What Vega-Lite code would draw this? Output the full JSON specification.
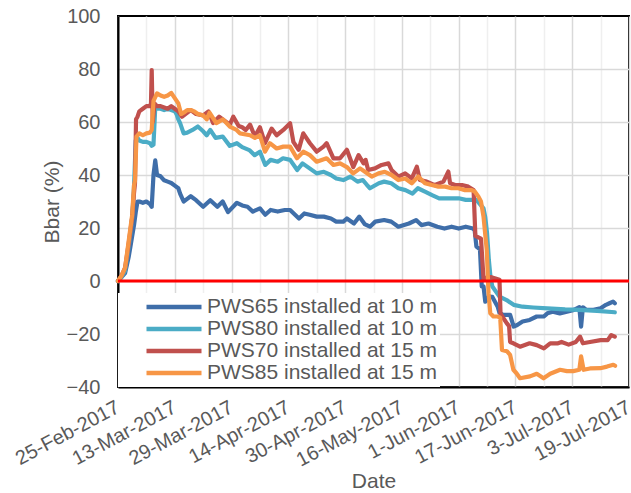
{
"$schema": "https://vega.github.io/schema/vega-lite/v6.json",
"width": 511, "height": 371,
"autosize": {"type": "none"},
"padding": {"left": 118, "top": 16, "right": 2, "bottom": 106},
"background": "white",
"config": {
  "font": "Liberation Sans",
  "view": {"stroke": "#000000", "strokeWidth": 2},
  "axis": {"labelColor": "#595959", "titleColor": "#595959", "labelFont": "Liberation Sans", "titleFont": "Liberation Sans", "labelFontSize": 20, "titleFontSize": 21, "titleFontWeight": "normal", "ticks": false}
},
"layer": [
{
"data": {"values": [
{"s":"PWS65","t":"2017-02-25T00:00","v":0},
{"s":"PWS65","t":"2017-02-26T00:00","v":1.5},
{"s":"PWS65","t":"2017-02-27T00:00","v":3},
{"s":"PWS65","t":"2017-02-28T00:00","v":9},
{"s":"PWS65","t":"2017-02-28T12:00","v":13},
{"s":"PWS65","t":"2017-03-01T00:00","v":17},
{"s":"PWS65","t":"2017-03-01T12:00","v":21},
{"s":"PWS65","t":"2017-03-02T00:00","v":26},
{"s":"PWS65","t":"2017-03-02T12:00","v":30},
{"s":"PWS65","t":"2017-03-03T00:00","v":30},
{"s":"PWS65","t":"2017-03-04T00:00","v":29.5},
{"s":"PWS65","t":"2017-03-05T00:00","v":30},
{"s":"PWS65","t":"2017-03-06T00:00","v":29},
{"s":"PWS65","t":"2017-03-06T12:00","v":28},
{"s":"PWS65","t":"2017-03-07T00:00","v":40},
{"s":"PWS65","t":"2017-03-07T12:00","v":45.5},
{"s":"PWS65","t":"2017-03-08T00:00","v":40},
{"s":"PWS65","t":"2017-03-09T00:00","v":39.5},
{"s":"PWS65","t":"2017-03-10T00:00","v":38},
{"s":"PWS65","t":"2017-03-11T00:00","v":37.5},
{"s":"PWS65","t":"2017-03-12T00:00","v":37},
{"s":"PWS65","t":"2017-03-13T00:00","v":36},
{"s":"PWS65","t":"2017-03-14T00:00","v":35},
{"s":"PWS65","t":"2017-03-14T12:00","v":33},
{"s":"PWS65","t":"2017-03-15T12:00","v":30},
{"s":"PWS65","t":"2017-03-16T12:00","v":31},
{"s":"PWS65","t":"2017-03-17T12:00","v":32},
{"s":"PWS65","t":"2017-03-19T00:00","v":30.5},
{"s":"PWS65","t":"2017-03-21T00:00","v":28},
{"s":"PWS65","t":"2017-03-23T00:00","v":30.5},
{"s":"PWS65","t":"2017-03-25T00:00","v":28},
{"s":"PWS65","t":"2017-03-26T12:00","v":30},
{"s":"PWS65","t":"2017-03-28T00:00","v":26},
{"s":"PWS65","t":"2017-03-30T12:00","v":29.5},
{"s":"PWS65","t":"2017-04-01T00:00","v":28.5},
{"s":"PWS65","t":"2017-04-02T12:00","v":28},
{"s":"PWS65","t":"2017-04-04T00:00","v":26.2},
{"s":"PWS65","t":"2017-04-06T00:00","v":27.4},
{"s":"PWS65","t":"2017-04-07T12:00","v":25},
{"s":"PWS65","t":"2017-04-09T00:00","v":26.8},
{"s":"PWS65","t":"2017-04-11T00:00","v":26.2},
{"s":"PWS65","t":"2017-04-13T00:00","v":26.8},
{"s":"PWS65","t":"2017-04-14T12:00","v":26.8},
{"s":"PWS65","t":"2017-04-17T00:00","v":23.6},
{"s":"PWS65","t":"2017-04-18T12:00","v":25.5},
{"s":"PWS65","t":"2017-04-20T00:00","v":25},
{"s":"PWS65","t":"2017-04-22T00:00","v":24.3},
{"s":"PWS65","t":"2017-04-24T00:00","v":24.3},
{"s":"PWS65","t":"2017-04-26T00:00","v":23.6},
{"s":"PWS65","t":"2017-04-27T12:00","v":22.4},
{"s":"PWS65","t":"2017-04-29T12:00","v":22.4},
{"s":"PWS65","t":"2017-04-30T12:00","v":23.6},
{"s":"PWS65","t":"2017-05-02T12:00","v":21.7},
{"s":"PWS65","t":"2017-05-04T00:00","v":24.3},
{"s":"PWS65","t":"2017-05-05T12:00","v":21.5},
{"s":"PWS65","t":"2017-05-07T00:00","v":20.5},
{"s":"PWS65","t":"2017-05-08T12:00","v":22.4},
{"s":"PWS65","t":"2017-05-11T00:00","v":23},
{"s":"PWS65","t":"2017-05-13T00:00","v":22.4},
{"s":"PWS65","t":"2017-05-15T00:00","v":20.5},
{"s":"PWS65","t":"2017-05-18T00:00","v":21.7},
{"s":"PWS65","t":"2017-05-20T00:00","v":23},
{"s":"PWS65","t":"2017-05-21T12:00","v":21.1},
{"s":"PWS65","t":"2017-05-23T12:00","v":21.7},
{"s":"PWS65","t":"2017-05-26T00:00","v":20.5},
{"s":"PWS65","t":"2017-05-28T00:00","v":19.8},
{"s":"PWS65","t":"2017-05-30T00:00","v":20.5},
{"s":"PWS65","t":"2017-06-01T00:00","v":19.8},
{"s":"PWS65","t":"2017-06-03T00:00","v":20.5},
{"s":"PWS65","t":"2017-06-05T00:00","v":19.8},
{"s":"PWS65","t":"2017-06-05T12:00","v":19.2},
{"s":"PWS65","t":"2017-06-06T00:00","v":13},
{"s":"PWS65","t":"2017-06-07T00:00","v":12},
{"s":"PWS65","t":"2017-06-07T12:00","v":-2},
{"s":"PWS65","t":"2017-06-08T00:00","v":-2},
{"s":"PWS65","t":"2017-06-08T12:00","v":-7.8},
{"s":"PWS65","t":"2017-06-09T12:00","v":-5.9},
{"s":"PWS65","t":"2017-06-10T12:00","v":-6},
{"s":"PWS65","t":"2017-06-12T00:00","v":-9.7},
{"s":"PWS65","t":"2017-06-12T12:00","v":-12},
{"s":"PWS65","t":"2017-06-13T12:00","v":-12.8},
{"s":"PWS65","t":"2017-06-15T12:00","v":-12.8},
{"s":"PWS65","t":"2017-06-16T12:00","v":-17.2},
{"s":"PWS65","t":"2017-06-17T12:00","v":-16.6},
{"s":"PWS65","t":"2017-06-19T00:00","v":-15.3},
{"s":"PWS65","t":"2017-06-21T00:00","v":-14.7},
{"s":"PWS65","t":"2017-06-23T00:00","v":-13.4},
{"s":"PWS65","t":"2017-06-25T00:00","v":-13.4},
{"s":"PWS65","t":"2017-06-26T00:00","v":-12.2},
{"s":"PWS65","t":"2017-06-27T12:00","v":-11.6},
{"s":"PWS65","t":"2017-06-29T12:00","v":-12.2},
{"s":"PWS65","t":"2017-07-01T12:00","v":-11.6},
{"s":"PWS65","t":"2017-07-03T12:00","v":-10.9},
{"s":"PWS65","t":"2017-07-05T00:00","v":-9.9},
{"s":"PWS65","t":"2017-07-05T12:00","v":-17.2},
{"s":"PWS65","t":"2017-07-06T00:00","v":-9.9},
{"s":"PWS65","t":"2017-07-07T00:00","v":-10.9},
{"s":"PWS65","t":"2017-07-09T00:00","v":-10.9},
{"s":"PWS65","t":"2017-07-11T00:00","v":-10.3},
{"s":"PWS65","t":"2017-07-12T12:00","v":-9},
{"s":"PWS65","t":"2017-07-13T12:00","v":-8.4},
{"s":"PWS65","t":"2017-07-14T12:00","v":-7.8},
{"s":"PWS65","t":"2017-07-15T00:00","v":-8.4},
{"s":"PWS80","t":"2017-02-25T00:00","v":0},
{"s":"PWS80","t":"2017-02-26T00:00","v":1.5},
{"s":"PWS80","t":"2017-02-27T00:00","v":4},
{"s":"PWS80","t":"2017-02-28T00:00","v":13},
{"s":"PWS80","t":"2017-02-28T12:00","v":18},
{"s":"PWS80","t":"2017-03-01T00:00","v":24},
{"s":"PWS80","t":"2017-03-01T12:00","v":35},
{"s":"PWS80","t":"2017-03-02T00:00","v":53},
{"s":"PWS80","t":"2017-03-02T12:00","v":54},
{"s":"PWS80","t":"2017-03-03T00:00","v":53},
{"s":"PWS80","t":"2017-03-04T00:00","v":52.5},
{"s":"PWS80","t":"2017-03-05T00:00","v":52.5},
{"s":"PWS80","t":"2017-03-06T00:00","v":52},
{"s":"PWS80","t":"2017-03-06T12:00","v":51},
{"s":"PWS80","t":"2017-03-07T00:00","v":51.5},
{"s":"PWS80","t":"2017-03-07T12:00","v":65.5},
{"s":"PWS80","t":"2017-03-08T00:00","v":65},
{"s":"PWS80","t":"2017-03-09T00:00","v":65},
{"s":"PWS80","t":"2017-03-10T00:00","v":64.5},
{"s":"PWS80","t":"2017-03-11T00:00","v":65},
{"s":"PWS80","t":"2017-03-12T00:00","v":64.5},
{"s":"PWS80","t":"2017-03-13T00:00","v":64},
{"s":"PWS80","t":"2017-03-13T12:00","v":63},
{"s":"PWS80","t":"2017-03-14T00:00","v":61},
{"s":"PWS80","t":"2017-03-14T12:00","v":59.6},
{"s":"PWS80","t":"2017-03-15T12:00","v":55.7},
{"s":"PWS80","t":"2017-03-16T12:00","v":56},
{"s":"PWS80","t":"2017-03-18T00:00","v":57},
{"s":"PWS80","t":"2017-03-19T12:00","v":58.3},
{"s":"PWS80","t":"2017-03-21T00:00","v":56.5},
{"s":"PWS80","t":"2017-03-22T00:00","v":55},
{"s":"PWS80","t":"2017-03-23T00:00","v":57},
{"s":"PWS80","t":"2017-03-24T12:00","v":54},
{"s":"PWS80","t":"2017-03-26T12:00","v":54.5},
{"s":"PWS80","t":"2017-03-28T12:00","v":51},
{"s":"PWS80","t":"2017-03-30T12:00","v":52},
{"s":"PWS80","t":"2017-04-01T00:00","v":50.5},
{"s":"PWS80","t":"2017-04-03T00:00","v":49.4},
{"s":"PWS80","t":"2017-04-04T12:00","v":47.5},
{"s":"PWS80","t":"2017-04-06T00:00","v":48.8},
{"s":"PWS80","t":"2017-04-07T12:00","v":43.8},
{"s":"PWS80","t":"2017-04-09T00:00","v":45.7},
{"s":"PWS80","t":"2017-04-11T00:00","v":45},
{"s":"PWS80","t":"2017-04-12T12:00","v":46.3},
{"s":"PWS80","t":"2017-04-14T12:00","v":45.7},
{"s":"PWS80","t":"2017-04-16T12:00","v":41.9},
{"s":"PWS80","t":"2017-04-18T00:00","v":44.4},
{"s":"PWS80","t":"2017-04-20T00:00","v":42.5},
{"s":"PWS80","t":"2017-04-22T00:00","v":40.6},
{"s":"PWS80","t":"2017-04-24T00:00","v":41.2},
{"s":"PWS80","t":"2017-04-26T00:00","v":40},
{"s":"PWS80","t":"2017-04-27T12:00","v":38.7},
{"s":"PWS80","t":"2017-04-29T12:00","v":38.1},
{"s":"PWS80","t":"2017-05-01T12:00","v":39.4},
{"s":"PWS80","t":"2017-05-03T12:00","v":37.5},
{"s":"PWS80","t":"2017-05-05T00:00","v":38.1},
{"s":"PWS80","t":"2017-05-06T00:00","v":36.5},
{"s":"PWS80","t":"2017-05-07T00:00","v":35},
{"s":"PWS80","t":"2017-05-09T12:00","v":36.9},
{"s":"PWS80","t":"2017-05-11T00:00","v":37.5},
{"s":"PWS80","t":"2017-05-13T00:00","v":36.9},
{"s":"PWS80","t":"2017-05-15T00:00","v":35},
{"s":"PWS80","t":"2017-05-17T00:00","v":34.3},
{"s":"PWS80","t":"2017-05-19T00:00","v":33},
{"s":"PWS80","t":"2017-05-20T12:00","v":35},
{"s":"PWS80","t":"2017-05-22T12:00","v":33.7},
{"s":"PWS80","t":"2017-05-24T12:00","v":32.4},
{"s":"PWS80","t":"2017-05-26T12:00","v":31.2},
{"s":"PWS80","t":"2017-05-28T00:00","v":31.2},
{"s":"PWS80","t":"2017-05-30T00:00","v":31.2},
{"s":"PWS80","t":"2017-06-01T00:00","v":31.2},
{"s":"PWS80","t":"2017-06-03T00:00","v":30.6},
{"s":"PWS80","t":"2017-06-05T00:00","v":30.6},
{"s":"PWS80","t":"2017-06-06T00:00","v":30.6},
{"s":"PWS80","t":"2017-06-07T00:00","v":29},
{"s":"PWS80","t":"2017-06-08T00:00","v":27.4},
{"s":"PWS80","t":"2017-06-08T12:00","v":24},
{"s":"PWS80","t":"2017-06-09T00:00","v":18},
{"s":"PWS80","t":"2017-06-09T12:00","v":8},
{"s":"PWS80","t":"2017-06-10T00:00","v":1},
{"s":"PWS80","t":"2017-06-10T12:00","v":-2.1},
{"s":"PWS80","t":"2017-06-11T12:00","v":-4},
{"s":"PWS80","t":"2017-06-12T12:00","v":-5.9},
{"s":"PWS80","t":"2017-06-14T12:00","v":-7.2},
{"s":"PWS80","t":"2017-06-16T12:00","v":-9},
{"s":"PWS80","t":"2017-06-19T00:00","v":-9.7},
{"s":"PWS80","t":"2017-06-22T00:00","v":-10},
{"s":"PWS80","t":"2017-06-26T00:00","v":-10.3},
{"s":"PWS80","t":"2017-07-01T00:00","v":-10.7},
{"s":"PWS80","t":"2017-07-05T00:00","v":-10.9},
{"s":"PWS80","t":"2017-07-10T00:00","v":-11.3},
{"s":"PWS80","t":"2017-07-15T00:00","v":-11.8},
{"s":"PWS70","t":"2017-02-25T00:00","v":0},
{"s":"PWS70","t":"2017-02-26T00:00","v":2},
{"s":"PWS70","t":"2017-02-27T00:00","v":5},
{"s":"PWS70","t":"2017-02-28T00:00","v":14},
{"s":"PWS70","t":"2017-02-28T12:00","v":19},
{"s":"PWS70","t":"2017-03-01T00:00","v":24},
{"s":"PWS70","t":"2017-03-01T12:00","v":33},
{"s":"PWS70","t":"2017-03-01T19:00","v":37},
{"s":"PWS70","t":"2017-03-02T02:00","v":61},
{"s":"PWS70","t":"2017-03-02T12:00","v":62},
{"s":"PWS70","t":"2017-03-03T00:00","v":64},
{"s":"PWS70","t":"2017-03-04T00:00","v":65},
{"s":"PWS70","t":"2017-03-05T00:00","v":66},
{"s":"PWS70","t":"2017-03-06T00:00","v":66},
{"s":"PWS70","t":"2017-03-06T07:00","v":67},
{"s":"PWS70","t":"2017-03-06T12:00","v":79.6},
{"s":"PWS70","t":"2017-03-06T19:00","v":60},
{"s":"PWS70","t":"2017-03-07T07:00","v":67},
{"s":"PWS70","t":"2017-03-08T00:00","v":66},
{"s":"PWS70","t":"2017-03-09T00:00","v":66},
{"s":"PWS70","t":"2017-03-10T00:00","v":65.5},
{"s":"PWS70","t":"2017-03-11T00:00","v":65},
{"s":"PWS70","t":"2017-03-12T00:00","v":66},
{"s":"PWS70","t":"2017-03-13T00:00","v":65},
{"s":"PWS70","t":"2017-03-14T00:00","v":64},
{"s":"PWS70","t":"2017-03-15T00:00","v":62},
{"s":"PWS70","t":"2017-03-16T00:00","v":63},
{"s":"PWS70","t":"2017-03-17T12:00","v":64.5},
{"s":"PWS70","t":"2017-03-19T00:00","v":63},
{"s":"PWS70","t":"2017-03-21T00:00","v":62.5},
{"s":"PWS70","t":"2017-03-22T12:00","v":64},
{"s":"PWS70","t":"2017-03-23T19:00","v":59.6},
{"s":"PWS70","t":"2017-03-25T12:00","v":62},
{"s":"PWS70","t":"2017-03-27T00:00","v":60.5},
{"s":"PWS70","t":"2017-03-28T12:00","v":59},
{"s":"PWS70","t":"2017-03-29T12:00","v":62},
{"s":"PWS70","t":"2017-03-31T00:00","v":58.5},
{"s":"PWS70","t":"2017-04-01T00:00","v":58},
{"s":"PWS70","t":"2017-04-02T00:00","v":57},
{"s":"PWS70","t":"2017-04-03T05:00","v":59},
{"s":"PWS70","t":"2017-04-04T14:00","v":54.5},
{"s":"PWS70","t":"2017-04-06T00:00","v":58},
{"s":"PWS70","t":"2017-04-07T10:00","v":52},
{"s":"PWS70","t":"2017-04-09T07:00","v":57.5},
{"s":"PWS70","t":"2017-04-10T17:00","v":55},
{"s":"PWS70","t":"2017-04-12T14:00","v":57},
{"s":"PWS70","t":"2017-04-14T12:00","v":59.5},
{"s":"PWS70","t":"2017-04-15T10:00","v":52.5},
{"s":"PWS70","t":"2017-04-16T22:00","v":49.5},
{"s":"PWS70","t":"2017-04-18T05:00","v":55.7},
{"s":"PWS70","t":"2017-04-20T02:00","v":52},
{"s":"PWS70","t":"2017-04-22T00:00","v":48.8},
{"s":"PWS70","t":"2017-04-23T22:00","v":50.7},
{"s":"PWS70","t":"2017-04-24T19:00","v":52},
{"s":"PWS70","t":"2017-04-26T17:00","v":46.3},
{"s":"PWS70","t":"2017-04-28T14:00","v":46.3},
{"s":"PWS70","t":"2017-04-30T12:00","v":49.5},
{"s":"PWS70","t":"2017-05-02T07:00","v":43},
{"s":"PWS70","t":"2017-05-03T19:00","v":47.5},
{"s":"PWS70","t":"2017-05-05T05:00","v":44.4},
{"s":"PWS70","t":"2017-05-05T19:00","v":45.7},
{"s":"PWS70","t":"2017-05-06T12:00","v":41.9},
{"s":"PWS70","t":"2017-05-08T10:00","v":42.5},
{"s":"PWS70","t":"2017-05-10T07:00","v":43.8},
{"s":"PWS70","t":"2017-05-12T05:00","v":44.4},
{"s":"PWS70","t":"2017-05-13T02:00","v":41.9},
{"s":"PWS70","t":"2017-05-15T00:00","v":39.4},
{"s":"PWS70","t":"2017-05-16T22:00","v":40.6},
{"s":"PWS70","t":"2017-05-18T19:00","v":38.7},
{"s":"PWS70","t":"2017-05-20T05:00","v":43.1},
{"s":"PWS70","t":"2017-05-21T02:00","v":38.1},
{"s":"PWS70","t":"2017-05-23T00:00","v":37.5},
{"s":"PWS70","t":"2017-05-25T07:00","v":36.2},
{"s":"PWS70","t":"2017-05-27T17:00","v":37.5},
{"s":"PWS70","t":"2017-05-29T02:00","v":41.3},
{"s":"PWS70","t":"2017-05-29T14:00","v":36.9},
{"s":"PWS70","t":"2017-05-31T00:00","v":36.2},
{"s":"PWS70","t":"2017-06-01T22:00","v":36.2},
{"s":"PWS70","t":"2017-06-03T17:00","v":35.6},
{"s":"PWS70","t":"2017-06-05T05:00","v":34.3},
{"s":"PWS70","t":"2017-06-05T17:00","v":17},
{"s":"PWS70","t":"2017-06-07T07:00","v":16},
{"s":"PWS70","t":"2017-06-08T00:00","v":1},
{"s":"PWS70","t":"2017-06-10T00:00","v":1.5},
{"s":"PWS70","t":"2017-06-12T12:00","v":0.5},
{"s":"PWS70","t":"2017-06-12T19:00","v":-12.2},
{"s":"PWS70","t":"2017-06-13T07:00","v":-13.4},
{"s":"PWS70","t":"2017-06-14T14:00","v":-16},
{"s":"PWS70","t":"2017-06-15T05:00","v":-17},
{"s":"PWS70","t":"2017-06-15T12:00","v":-23},
{"s":"PWS70","t":"2017-06-16T10:00","v":-23.5},
{"s":"PWS70","t":"2017-06-18T07:00","v":-24.8},
{"s":"PWS70","t":"2017-06-21T00:00","v":-23.5},
{"s":"PWS70","t":"2017-06-23T00:00","v":-24.2},
{"s":"PWS70","t":"2017-06-25T00:00","v":-25.4},
{"s":"PWS70","t":"2017-06-26T19:00","v":-23.5},
{"s":"PWS70","t":"2017-06-29T00:00","v":-23.5},
{"s":"PWS70","t":"2017-06-30T00:00","v":-23},
{"s":"PWS70","t":"2017-07-02T00:00","v":-24},
{"s":"PWS70","t":"2017-07-04T00:00","v":-23},
{"s":"PWS70","t":"2017-07-05T05:00","v":-21},
{"s":"PWS70","t":"2017-07-06T00:00","v":-23.5},
{"s":"PWS70","t":"2017-07-08T00:00","v":-23},
{"s":"PWS70","t":"2017-07-11T00:00","v":-22.3},
{"s":"PWS70","t":"2017-07-13T00:00","v":-22.3},
{"s":"PWS70","t":"2017-07-14T00:00","v":-20.4},
{"s":"PWS70","t":"2017-07-15T00:00","v":-21},
{"s":"PWS85","t":"2017-02-25T00:00","v":0},
{"s":"PWS85","t":"2017-02-26T00:00","v":2},
{"s":"PWS85","t":"2017-02-27T00:00","v":5},
{"s":"PWS85","t":"2017-02-28T00:00","v":15},
{"s":"PWS85","t":"2017-02-28T12:00","v":20},
{"s":"PWS85","t":"2017-03-01T00:00","v":25},
{"s":"PWS85","t":"2017-03-01T12:00","v":36},
{"s":"PWS85","t":"2017-03-01T19:00","v":38},
{"s":"PWS85","t":"2017-03-02T05:00","v":54.5},
{"s":"PWS85","t":"2017-03-03T00:00","v":55.7},
{"s":"PWS85","t":"2017-03-04T00:00","v":55},
{"s":"PWS85","t":"2017-03-05T00:00","v":55.7},
{"s":"PWS85","t":"2017-03-06T00:00","v":56},
{"s":"PWS85","t":"2017-03-06T12:00","v":57},
{"s":"PWS85","t":"2017-03-07T00:00","v":68},
{"s":"PWS85","t":"2017-03-08T00:00","v":70.8},
{"s":"PWS85","t":"2017-03-09T00:00","v":70},
{"s":"PWS85","t":"2017-03-10T00:00","v":69.5},
{"s":"PWS85","t":"2017-03-11T00:00","v":70},
{"s":"PWS85","t":"2017-03-12T00:00","v":71},
{"s":"PWS85","t":"2017-03-13T00:00","v":69},
{"s":"PWS85","t":"2017-03-14T00:00","v":67},
{"s":"PWS85","t":"2017-03-14T19:00","v":63},
{"s":"PWS85","t":"2017-03-15T12:00","v":63.5},
{"s":"PWS85","t":"2017-03-16T12:00","v":64.5},
{"s":"PWS85","t":"2017-03-17T12:00","v":64.5},
{"s":"PWS85","t":"2017-03-18T12:00","v":64},
{"s":"PWS85","t":"2017-03-19T12:00","v":63},
{"s":"PWS85","t":"2017-03-21T00:00","v":62.5},
{"s":"PWS85","t":"2017-03-22T00:00","v":61},
{"s":"PWS85","t":"2017-03-22T19:00","v":63.5},
{"s":"PWS85","t":"2017-03-24T17:00","v":59.6},
{"s":"PWS85","t":"2017-03-26T14:00","v":61},
{"s":"PWS85","t":"2017-03-28T12:00","v":58.3},
{"s":"PWS85","t":"2017-03-30T10:00","v":57},
{"s":"PWS85","t":"2017-03-31T10:00","v":55.7},
{"s":"PWS85","t":"2017-04-03T05:00","v":55},
{"s":"PWS85","t":"2017-04-04T14:00","v":54},
{"s":"PWS85","t":"2017-04-06T00:00","v":55},
{"s":"PWS85","t":"2017-04-07T10:00","v":48.8},
{"s":"PWS85","t":"2017-04-08T19:00","v":52},
{"s":"PWS85","t":"2017-04-10T17:00","v":50},
{"s":"PWS85","t":"2017-04-12T14:00","v":50.7},
{"s":"PWS85","t":"2017-04-14T12:00","v":50.7},
{"s":"PWS85","t":"2017-04-16T10:00","v":46.3},
{"s":"PWS85","t":"2017-04-18T05:00","v":48.8},
{"s":"PWS85","t":"2017-04-20T02:00","v":47.5},
{"s":"PWS85","t":"2017-04-22T00:00","v":45},
{"s":"PWS85","t":"2017-04-24T19:00","v":46.3},
{"s":"PWS85","t":"2017-04-26T17:00","v":43.8},
{"s":"PWS85","t":"2017-04-28T14:00","v":44.4},
{"s":"PWS85","t":"2017-04-30T12:00","v":43},
{"s":"PWS85","t":"2017-05-02T07:00","v":40.6},
{"s":"PWS85","t":"2017-05-04T05:00","v":42.5},
{"s":"PWS85","t":"2017-05-05T14:00","v":41.2},
{"s":"PWS85","t":"2017-05-07T12:00","v":39.4},
{"s":"PWS85","t":"2017-05-09T10:00","v":40.6},
{"s":"PWS85","t":"2017-05-11T05:00","v":41.2},
{"s":"PWS85","t":"2017-05-13T02:00","v":40},
{"s":"PWS85","t":"2017-05-15T00:00","v":38.1},
{"s":"PWS85","t":"2017-05-16T22:00","v":38.7},
{"s":"PWS85","t":"2017-05-18T19:00","v":36.9},
{"s":"PWS85","t":"2017-05-20T14:00","v":39.4},
{"s":"PWS85","t":"2017-05-22T12:00","v":36.9},
{"s":"PWS85","t":"2017-05-24T10:00","v":36.2},
{"s":"PWS85","t":"2017-05-26T07:00","v":35.6},
{"s":"PWS85","t":"2017-05-28T05:00","v":35.6},
{"s":"PWS85","t":"2017-05-30T00:00","v":35},
{"s":"PWS85","t":"2017-05-31T22:00","v":35},
{"s":"PWS85","t":"2017-06-02T19:00","v":34.3},
{"s":"PWS85","t":"2017-06-04T17:00","v":34.3},
{"s":"PWS85","t":"2017-06-05T14:00","v":33.7},
{"s":"PWS85","t":"2017-06-06T14:00","v":31.8},
{"s":"PWS85","t":"2017-06-07T07:00","v":30},
{"s":"PWS85","t":"2017-06-08T00:00","v":24.3},
{"s":"PWS85","t":"2017-06-08T22:00","v":11.7},
{"s":"PWS85","t":"2017-06-09T10:00","v":-4.6},
{"s":"PWS85","t":"2017-06-09T22:00","v":-12.2},
{"s":"PWS85","t":"2017-06-10T19:00","v":-13.4},
{"s":"PWS85","t":"2017-06-12T00:00","v":-13.4},
{"s":"PWS85","t":"2017-06-12T17:00","v":-13.8},
{"s":"PWS85","t":"2017-06-13T05:00","v":-26},
{"s":"PWS85","t":"2017-06-14T14:00","v":-26.5},
{"s":"PWS85","t":"2017-06-15T12:00","v":-27.9},
{"s":"PWS85","t":"2017-06-16T10:00","v":-33.5},
{"s":"PWS85","t":"2017-06-17T07:00","v":-34.8},
{"s":"PWS85","t":"2017-06-18T07:00","v":-36.7},
{"s":"PWS85","t":"2017-06-21T02:00","v":-36},
{"s":"PWS85","t":"2017-06-23T00:00","v":-35},
{"s":"PWS85","t":"2017-06-24T22:00","v":-36.7},
{"s":"PWS85","t":"2017-06-26T19:00","v":-35},
{"s":"PWS85","t":"2017-06-29T14:00","v":-33.5},
{"s":"PWS85","t":"2017-07-01T12:00","v":-34},
{"s":"PWS85","t":"2017-07-03T07:00","v":-34},
{"s":"PWS85","t":"2017-07-05T00:00","v":-33.5},
{"s":"PWS85","t":"2017-07-05T12:00","v":-28.4},
{"s":"PWS85","t":"2017-07-06T05:00","v":-33.5},
{"s":"PWS85","t":"2017-07-08T00:00","v":-33},
{"s":"PWS85","t":"2017-07-10T22:00","v":-32.9},
{"s":"PWS85","t":"2017-07-12T19:00","v":-32.3},
{"s":"PWS85","t":"2017-07-14T14:00","v":-31.6},
{"s":"PWS85","t":"2017-07-15T02:00","v":-32}
]},
"mark": {"type": "line", "strokeWidth": 4.2, "strokeJoin": "round", "strokeCap": "round"},
"encoding": {
  "x": {"field": "t", "type": "temporal",
    "scale": {"domain": [{"year":2017,"month":"Feb","date":25},{"year":2017,"month":"Jul","date":19}]},
    "axis": {"title": "Date", "format": "%-d-%b-%Y", "labelFontSize": 20, "labelAngle": -28, "labelAlign": "right", "labelBaseline": "top", "labelPadding": 10, "labelOffset": -5, "titlePadding": 1, "labelOverlap": false, "labelBound": false, "labelFlush": false,
      "values": [
        {"year":2017,"month":"Feb","date":25},{"year":2017,"month":"Mar","date":5},{"year":2017,"month":"Mar","date":13},{"year":2017,"month":"Mar","date":21},
        {"year":2017,"month":"Mar","date":29},{"year":2017,"month":"Apr","date":6},{"year":2017,"month":"Apr","date":14},{"year":2017,"month":"Apr","date":22},
        {"year":2017,"month":"Apr","date":30},{"year":2017,"month":"May","date":8},{"year":2017,"month":"May","date":16},{"year":2017,"month":"May","date":24},
        {"year":2017,"month":"Jun","date":1},{"year":2017,"month":"Jun","date":9},{"year":2017,"month":"Jun","date":17},{"year":2017,"month":"Jun","date":25},
        {"year":2017,"month":"Jul","date":3},{"year":2017,"month":"Jul","date":11},{"year":2017,"month":"Jul","date":19}],
      "labelExpr": "round((datum.value - datetime(2017,1,25)) / 691200000) % 2 == 0 ? datum.label : ''",
      "grid": true, "gridWidth": 1.5,
      "gridColor": {"condition": {"test": "round((datum.value - datetime(2017,1,25)) / 691200000) % 2 == 0", "value": "#d9d9d9"}, "value": "#efefef"},
      "domain": true, "domainColor": "#000000", "domainWidth": 2},
    "sort": null},
  "y": {"field": "v", "type": "quantitative", "scale": {"domain": [-40, 100], "nice": false},
    "axis": {"title": "Bbar (%)", "values": [-40,-20,0,20,40,60,80,100], "labelPadding": 18, "titlePadding": 4, "grid": true, "gridWidth": 1.5,
      "gridColor": {"condition": {"test": "datum.value == 100", "value": "transparent"}, "value": "#d9d9d9"},
      "domain": true, "domainColor": "#000000", "domainWidth": 2}},
  "color": {"field": "s", "type": "nominal",
    "scale": {"domain": ["PWS65","PWS80","PWS70","PWS85"], "range": ["#3F6EA9","#4BACC6","#C0504D","#F79646"]},
    "legend": {"title": null, "orient": "bottom-left", "offset": 0, "fillColor": "white", "padding": 3,
      "symbolType": "stroke", "symbolSize": 3025, "symbolStrokeWidth": 4.5, "clipHeight": 22, "rowPadding": 0,
      "symbolOffset": 23, "labelOffset": 3, "labelFontSize": 21, "labelColor": "#595959", "labelFont": "Liberation Sans", "labelLimit": 400,
      "labelExpr": "datum.label + ((datum.label == 'PWS65' || datum.label == 'PWS80') ? ' installed at 10 m' : ' installed at 15 m')"}}
}
},
{
"data": {"values": [{}]},
"mark": {"type": "rule", "color": "#FF0000", "strokeWidth": 3},
"encoding": {"y": {"datum": 0}}
}
]
}
